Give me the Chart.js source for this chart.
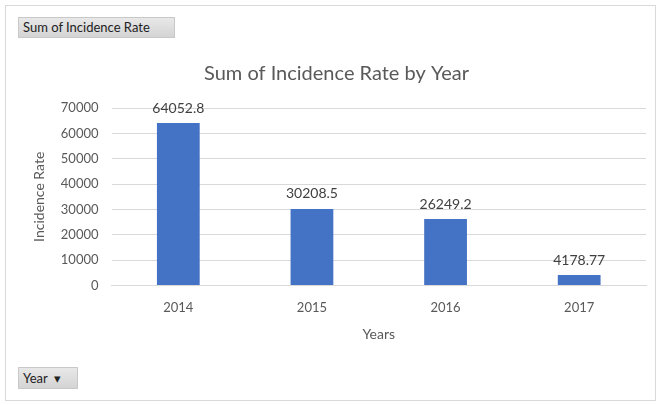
<!DOCTYPE html>
<html>
<head>
<meta charset="utf-8">
<script src="https://cdn.jsdelivr.net/npm/chart.js@4"></script>
<style>
  html, body { margin: 0; padding: 0; background: #fff; }
  #frame { position: absolute; left: 5px; top: 5px; width: 649px; height: 394px; border: 1px solid #d9d9d9; }
  #wrap { position: absolute; left: 0; top: 0; width: 660px; height: 405px; }
  .btn { position: absolute; background: linear-gradient(#e8e8e8, #d4d4d4); border: 1px solid #c8c8c8; box-sizing: border-box;
         font-family: Lato, "Liberation Sans", sans-serif; font-size: 13px; color: #222; line-height: 19px; padding: 0 4px; }
</style>
</head>
<body>
<div id="frame"></div>
<div id="wrap"><canvas id="barChart" width="660" height="405"></canvas></div>
<div class="btn" style="left:18px; top:17px; width:157px; height:21px;">Sum of Incidence Rate</div>
<div class="btn" style="left:18px; top:367px; width:60px; height:22px; line-height:20px;">Year &nbsp;&#9662;</div>
<script>
var years = ["2014", "2015", "2016", "2017"];
var incidence = [64052.8, 30208.5, 26249.2, 4178.77];
var labelsText = ["64052.8", "30208.5", "26249.2", "4178.77"];

// draws the value above each bar
var valueLabels = {
    id: "valueLabels",
    afterDatasetsDraw: function (chart) {
        var ctx = chart.ctx;
        var meta = chart.getDatasetMeta(0);
        ctx.save();
        ctx.font = "14px Lato, 'Liberation Sans', sans-serif";
        ctx.fillStyle = "#404040";
        ctx.textAlign = "center";
        ctx.textBaseline = "bottom";
        meta.data.forEach(function (bar, i) {
            ctx.fillText(labelsText[i], bar.x, bar.y - 8);
        });
        ctx.restore();
    }
};

document.addEventListener("DOMContentLoaded", function () {
    var ctx = document.getElementById("barChart").getContext("2d");
    new Chart(ctx, {
        type: "bar",
        data: {
            labels: years,
            datasets: [{
                label: "Sum of Incidence Rate",
                data: incidence,
                backgroundColor: "#4472C4",
                barPercentage: 0.32,
                categoryPercentage: 1
            }]
        },
        options: {
            responsive: false,
            animation: false,
            layout: { padding: { left: 27, right: 14, top: 62, bottom: 58 } },
            plugins: {
                legend: { display: false },
                tooltip: { enabled: false },
                title: {
                    display: true,
                    text: "Sum of Incidence Rate by Year",
                    color: "#595959",
                    font: { family: "Lato, 'Liberation Sans', sans-serif", size: 20, weight: "normal" },
                    padding: { top: 0, bottom: 22 }
                }
            },
            scales: {
                x: {
                    grid: { display: false },
                    border: { color: "#d9d9d9" },
                    ticks: { color: "#595959", font: { family: "Lato, 'Liberation Sans', sans-serif", size: 13 }, padding: 6 },
                    title: { display: true, text: "Years", color: "#595959", font: { family: "Lato, 'Liberation Sans', sans-serif", size: 14 }, padding: { top: 5 } }
                },
                y: {
                    min: 0,
                    max: 70000,
                    ticks: {
                        stepSize: 10000, color: "#595959", padding: 13,
                        font: { family: "Lato, 'Liberation Sans', sans-serif", size: 13 },
                        callback: function (v) { return String(v); }
                    },
                    grid: { color: "#d9d9d9", drawTicks: false },
                    border: { display: false },
                    title: { display: true, text: "Incidence Rate", color: "#595959", font: { family: "Lato, 'Liberation Sans', sans-serif", size: 14 }, padding: { top: 4, bottom: 0 } }
                }
            }
        },
        plugins: [valueLabels]
    });
});
</script>
</body>
</html>
